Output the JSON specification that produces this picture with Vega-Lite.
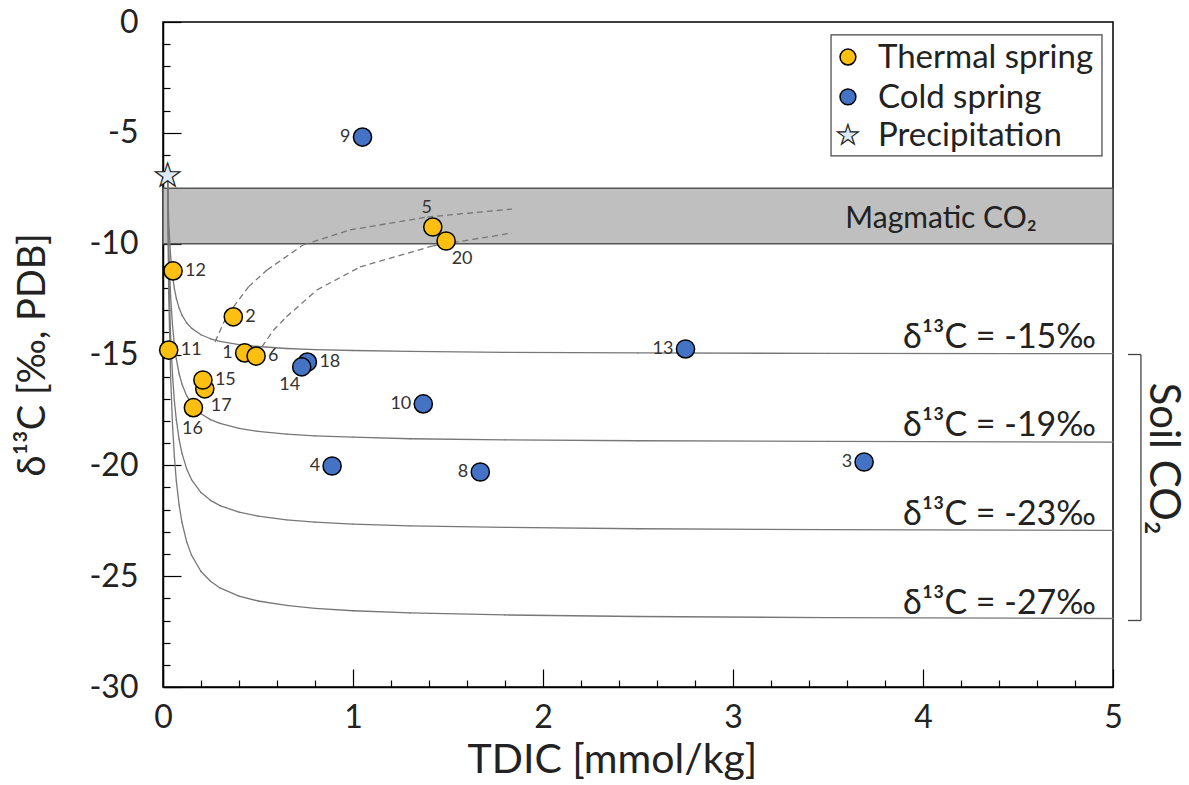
{
  "$schema": "https://vega.github.io/schema/vega-lite/v6.json",
  "width": 950,
  "height": 665,
  "autosize": "none",
  "padding": {"left": 163, "top": 22, "right": 76, "bottom": 98},
  "background": "white",
  "config": {
    "font": "Lato",
    "view": {"stroke": "black", "strokeWidth": 1.5},
    "axis": {"domainColor": "black", "domainWidth": 1.5, "tickColor": "black", "tickWidth": 1.2, "grid": false, "labelColor": "#222", "titleColor": "#222", "titleFontWeight": "normal", "labelFont": "Lato", "titleFont": "Lato", "labelFlush": false}
  },
  "resolve": {"axis": {"x": "independent", "y": "independent"}},
  "layer": [
    {
      "data": {"values": [{"name": "Magmatic CO₂", "x1": 0, "x2": 5, "top": -7.5, "bottom": -10}]},
      "mark": {"type": "rect", "fill": "#bfbfbf", "stroke": "#555", "strokeWidth": 1.5},
      "encoding": {
        "x": {"field": "x1", "type": "quantitative", "scale": {"domain": [0, 5], "nice": false, "zero": false},
          "axis": {"orient": "bottom", "values": [0, 1, 2, 3, 4, 5], "tickSize": -18, "labelFontSize": 32, "labelPadding": 33, "title": "TDIC [mmol/kg]", "titleFontSize": 41, "titlePadding": 7, "titleX": 449}},
        "x2": {"field": "x2"},
        "y": {"field": "top", "type": "quantitative", "scale": {"domain": [-30, 0], "nice": false, "zero": false},
          "axis": {"orient": "left", "values": [0, -5, -10, -15, -20, -25, -30], "tickSize": -18,
            "labelExpr": "datum.value == 0 ? '0' : '-' + abs(datum.value)",
            "labelFontSize": 32, "labelPadding": 43, "title": "δ¹³C [‰, PDB]", "titleFontSize": 38, "titlePadding": 36}},
        "y2": {"field": "bottom"}
      }
    },
    {
      "data": {"values": [{"name": "Magmatic CO₂", "cx": 4.095, "cy": -8.8}]},
      "mark": {"type": "text", "fontSize": 30, "align": "center", "baseline": "middle", "color": "#222", "dy": 2},
      "encoding": {
        "x": {"field": "cx", "type": "quantitative", "axis": null},
        "y": {"field": "cy", "type": "quantitative", "axis": null},
        "text": {"field": "name"}
      }
    },
    {
      "data": {"values": [
        {"curve": "-15", "tdic": 0.024, "d13c": -6.9},
        {"curve": "-15", "tdic": 0.03, "d13c": -9.07},
        {"curve": "-15", "tdic": 0.04, "d13c": -10.55},
        {"curve": "-15", "tdic": 0.05, "d13c": -11.44},
        {"curve": "-15", "tdic": 0.06, "d13c": -12.03},
        {"curve": "-15", "tdic": 0.07, "d13c": -12.46},
        {"curve": "-15", "tdic": 0.085, "d13c": -12.91},
        {"curve": "-15", "tdic": 0.1, "d13c": -13.22},
        {"curve": "-15", "tdic": 0.125, "d13c": -13.58},
        {"curve": "-15", "tdic": 0.15, "d13c": -13.81},
        {"curve": "-15", "tdic": 0.2, "d13c": -14.11},
        {"curve": "-15", "tdic": 0.25, "d13c": -14.29},
        {"curve": "-15", "tdic": 0.3, "d13c": -14.41},
        {"curve": "-15", "tdic": 0.4, "d13c": -14.55},
        {"curve": "-15", "tdic": 0.5, "d13c": -14.64},
        {"curve": "-15", "tdic": 0.65, "d13c": -14.73},
        {"curve": "-15", "tdic": 0.8, "d13c": -14.78},
        {"curve": "-15", "tdic": 1.0, "d13c": -14.82},
        {"curve": "-15", "tdic": 1.3, "d13c": -14.86},
        {"curve": "-15", "tdic": 1.8, "d13c": -14.9},
        {"curve": "-15", "tdic": 2.5, "d13c": -14.93},
        {"curve": "-15", "tdic": 3.5, "d13c": -14.95},
        {"curve": "-15", "tdic": 5, "d13c": -14.96},
        {"curve": "-19", "tdic": 0.024, "d13c": -6.9},
        {"curve": "-19", "tdic": 0.03, "d13c": -10.13},
        {"curve": "-19", "tdic": 0.04, "d13c": -12.35},
        {"curve": "-19", "tdic": 0.05, "d13c": -13.68},
        {"curve": "-19", "tdic": 0.06, "d13c": -14.57},
        {"curve": "-19", "tdic": 0.07, "d13c": -15.2},
        {"curve": "-19", "tdic": 0.085, "d13c": -15.87},
        {"curve": "-19", "tdic": 0.1, "d13c": -16.34},
        {"curve": "-19", "tdic": 0.125, "d13c": -16.87},
        {"curve": "-19", "tdic": 0.15, "d13c": -17.23},
        {"curve": "-19", "tdic": 0.2, "d13c": -17.67},
        {"curve": "-19", "tdic": 0.25, "d13c": -17.94},
        {"curve": "-19", "tdic": 0.3, "d13c": -18.11},
        {"curve": "-19", "tdic": 0.4, "d13c": -18.33},
        {"curve": "-19", "tdic": 0.5, "d13c": -18.47},
        {"curve": "-19", "tdic": 0.65, "d13c": -18.59},
        {"curve": "-19", "tdic": 0.8, "d13c": -18.67},
        {"curve": "-19", "tdic": 1.0, "d13c": -18.73},
        {"curve": "-19", "tdic": 1.3, "d13c": -18.8},
        {"curve": "-19", "tdic": 1.8, "d13c": -18.85},
        {"curve": "-19", "tdic": 2.5, "d13c": -18.89},
        {"curve": "-19", "tdic": 3.5, "d13c": -18.92},
        {"curve": "-19", "tdic": 5, "d13c": -18.95},
        {"curve": "-23", "tdic": 0.024, "d13c": -6.9},
        {"curve": "-23", "tdic": 0.03, "d13c": -11.2},
        {"curve": "-23", "tdic": 0.04, "d13c": -14.15},
        {"curve": "-23", "tdic": 0.05, "d13c": -15.92},
        {"curve": "-23", "tdic": 0.06, "d13c": -17.1},
        {"curve": "-23", "tdic": 0.07, "d13c": -17.94},
        {"curve": "-23", "tdic": 0.085, "d13c": -18.84},
        {"curve": "-23", "tdic": 0.1, "d13c": -19.46},
        {"curve": "-23", "tdic": 0.125, "d13c": -20.17},
        {"curve": "-23", "tdic": 0.15, "d13c": -20.64},
        {"curve": "-23", "tdic": 0.2, "d13c": -21.23},
        {"curve": "-23", "tdic": 0.25, "d13c": -21.58},
        {"curve": "-23", "tdic": 0.3, "d13c": -21.82},
        {"curve": "-23", "tdic": 0.4, "d13c": -22.11},
        {"curve": "-23", "tdic": 0.5, "d13c": -22.29},
        {"curve": "-23", "tdic": 0.65, "d13c": -22.46},
        {"curve": "-23", "tdic": 0.8, "d13c": -22.56},
        {"curve": "-23", "tdic": 1.0, "d13c": -22.65},
        {"curve": "-23", "tdic": 1.3, "d13c": -22.73},
        {"curve": "-23", "tdic": 1.8, "d13c": -22.8},
        {"curve": "-23", "tdic": 2.5, "d13c": -22.86},
        {"curve": "-23", "tdic": 3.5, "d13c": -22.9},
        {"curve": "-23", "tdic": 5, "d13c": -22.93},
        {"curve": "-27", "tdic": 0.024, "d13c": -6.9},
        {"curve": "-27", "tdic": 0.03, "d13c": -12.27},
        {"curve": "-27", "tdic": 0.04, "d13c": -15.95},
        {"curve": "-27", "tdic": 0.05, "d13c": -18.16},
        {"curve": "-27", "tdic": 0.06, "d13c": -19.63},
        {"curve": "-27", "tdic": 0.07, "d13c": -20.69},
        {"curve": "-27", "tdic": 0.085, "d13c": -21.8},
        {"curve": "-27", "tdic": 0.1, "d13c": -22.58},
        {"curve": "-27", "tdic": 0.125, "d13c": -23.46},
        {"curve": "-27", "tdic": 0.15, "d13c": -24.05},
        {"curve": "-27", "tdic": 0.2, "d13c": -24.79},
        {"curve": "-27", "tdic": 0.25, "d13c": -25.23},
        {"curve": "-27", "tdic": 0.3, "d13c": -25.53},
        {"curve": "-27", "tdic": 0.4, "d13c": -25.9},
        {"curve": "-27", "tdic": 0.5, "d13c": -26.12},
        {"curve": "-27", "tdic": 0.65, "d13c": -26.32},
        {"curve": "-27", "tdic": 0.8, "d13c": -26.45},
        {"curve": "-27", "tdic": 1.0, "d13c": -26.56},
        {"curve": "-27", "tdic": 1.3, "d13c": -26.66},
        {"curve": "-27", "tdic": 1.8, "d13c": -26.75},
        {"curve": "-27", "tdic": 2.5, "d13c": -26.82},
        {"curve": "-27", "tdic": 3.5, "d13c": -26.87},
        {"curve": "-27", "tdic": 5, "d13c": -26.91}
      ]},
      "transform": [
        {"window": [{"op": "lead", "field": "tdic", "as": "tdic2"}, {"op": "lead", "field": "d13c", "as": "d13c2"}], "groupby": ["curve"], "sort": [{"field": "tdic", "order": "ascending"}]},
        {"filter": "isValid(datum.tdic2)"}
      ],
      "mark": {"type": "rule", "color": "#777", "strokeWidth": 1.3, "strokeCap": "round"},
      "encoding": {
        "x": {"field": "tdic", "type": "quantitative",
          "axis": {"orient": "bottom", "values": [0.2, 0.4, 0.6, 0.8, 1.2, 1.4, 1.6, 1.8, 2.2, 2.4, 2.6, 2.8, 3.2, 3.4, 3.6, 3.8, 4.2, 4.4, 4.6, 4.8], "tickSize": -7, "labels": false, "domain": false, "title": null}},
        "y": {"field": "d13c", "type": "quantitative",
          "axis": {"orient": "left", "values": [-1, -2, -3, -4, -6, -7, -8, -9, -11, -12, -13, -14, -16, -17, -18, -19, -21, -22, -23, -24, -26, -27, -28, -29], "tickSize": -7, "labels": false, "domain": false, "title": null}},
        "x2": {"field": "tdic2"},
        "y2": {"field": "d13c2"}
      }
    },
    {
      "data": {"values": [
        {"curve": "up", "tdic": 0.274, "d13c": -14.43},
        {"curve": "up", "tdic": 0.32, "d13c": -13.55},
        {"curve": "up", "tdic": 0.37, "d13c": -12.86},
        {"curve": "up", "tdic": 0.45, "d13c": -11.95},
        {"curve": "up", "tdic": 0.547, "d13c": -11.19},
        {"curve": "up", "tdic": 0.737, "d13c": -10.06},
        {"curve": "up", "tdic": 0.984, "d13c": -9.38},
        {"curve": "up", "tdic": 1.39, "d13c": -8.8},
        {"curve": "up", "tdic": 1.837, "d13c": -8.44},
        {"curve": "lo", "tdic": 0.52, "d13c": -14.66},
        {"curve": "lo", "tdic": 0.58, "d13c": -13.92},
        {"curve": "lo", "tdic": 0.65, "d13c": -13.3},
        {"curve": "lo", "tdic": 0.81, "d13c": -12.09},
        {"curve": "lo", "tdic": 1.037, "d13c": -11.05},
        {"curve": "lo", "tdic": 1.42, "d13c": -10.1},
        {"curve": "lo", "tdic": 1.837, "d13c": -9.52}
      ]},
      "transform": [
        {"window": [{"op": "lead", "field": "tdic", "as": "tdic2"}, {"op": "lead", "field": "d13c", "as": "d13c2"}], "groupby": ["curve"], "sort": [{"field": "tdic", "order": "ascending"}]},
        {"filter": "isValid(datum.tdic2)"}
      ],
      "mark": {"type": "rule", "color": "#777", "strokeWidth": 1.3, "strokeDash": [6, 4]},
      "encoding": {
        "x": {"field": "tdic", "type": "quantitative", "axis": null},
        "y": {"field": "d13c", "type": "quantitative", "axis": null},
        "x2": {"field": "tdic2"},
        "y2": {"field": "d13c2"}
      }
    },
    {
      "data": {"values": [
        {"label": "δ¹³C = -15‰", "lx": 4.91, "delta": -15},
        {"label": "δ¹³C = -19‰", "lx": 4.91, "delta": -19},
        {"label": "δ¹³C = -23‰", "lx": 4.91, "delta": -23},
        {"label": "δ¹³C = -27‰", "lx": 4.91, "delta": -27}
      ]},
      "mark": {"type": "text", "fontSize": 34, "align": "right", "baseline": "alphabetic", "dy": -7, "color": "#222"},
      "encoding": {
        "x": {"field": "lx", "type": "quantitative", "axis": null},
        "y": {"field": "delta", "type": "quantitative", "axis": null},
        "text": {"field": "label"}
      }
    },
    {
      "data": {"values": [
        {"id": "12", "type": "Thermal spring", "tdic": 0.053, "d13c": -11.23},
        {"id": "11", "type": "Thermal spring", "tdic": 0.03, "d13c": -14.8},
        {"id": "2", "type": "Thermal spring", "tdic": 0.37, "d13c": -13.3},
        {"id": "1", "type": "Thermal spring", "tdic": 0.43, "d13c": -14.93},
        {"id": "6", "type": "Thermal spring", "tdic": 0.49, "d13c": -15.07},
        {"id": "17", "type": "Thermal spring", "tdic": 0.22, "d13c": -16.55},
        {"id": "15", "type": "Thermal spring", "tdic": 0.21, "d13c": -16.15},
        {"id": "16", "type": "Thermal spring", "tdic": 0.16, "d13c": -17.4},
        {"id": "5", "type": "Thermal spring", "tdic": 1.42, "d13c": -9.25},
        {"id": "20", "type": "Thermal spring", "tdic": 1.49, "d13c": -9.88},
        {"id": "9", "type": "Cold spring", "tdic": 1.05, "d13c": -5.19},
        {"id": "13", "type": "Cold spring", "tdic": 2.75, "d13c": -14.75},
        {"id": "18", "type": "Cold spring", "tdic": 0.76, "d13c": -15.34},
        {"id": "14", "type": "Cold spring", "tdic": 0.73, "d13c": -15.56},
        {"id": "10", "type": "Cold spring", "tdic": 1.37, "d13c": -17.23},
        {"id": "4", "type": "Cold spring", "tdic": 0.89, "d13c": -20.03},
        {"id": "8", "type": "Cold spring", "tdic": 1.67, "d13c": -20.3},
        {"id": "3", "type": "Cold spring", "tdic": 3.69, "d13c": -19.85}
      ]},
      "layer": [
        {
          "mark": {"type": "circle", "opacity": 1, "size": 330, "stroke": "black", "strokeWidth": 1.5},
          "encoding": {
            "x": {"field": "tdic", "type": "quantitative", "axis": null},
            "y": {"field": "d13c", "type": "quantitative", "axis": null},
            "color": {"field": "type", "type": "nominal", "legend": null,
              "scale": {"domain": ["Thermal spring", "Cold spring"], "range": ["#FDC010", "#4472C4"]}}
          }
        },
        {
          "transform": [{"filter": "indexof(['12','11','2','6','15','18'], datum.id) >= 0"}],
          "mark": {"type": "text", "fontSize": 18, "align": "left", "baseline": "middle", "dx": 12, "color": "#333"},
          "encoding": {
            "x": {"field": "tdic", "type": "quantitative", "axis": null},
            "y": {"field": "d13c", "type": "quantitative", "axis": null},
            "text": {"field": "id"}
          }
        },
        {
          "transform": [{"filter": "indexof(['1','9','13','10','4','8','3'], datum.id) >= 0"}],
          "mark": {"type": "text", "fontSize": 18, "align": "right", "baseline": "middle", "dx": -12, "color": "#333"},
          "encoding": {
            "x": {"field": "tdic", "type": "quantitative", "axis": null},
            "y": {"field": "d13c", "type": "quantitative", "axis": null},
            "text": {"field": "id"}
          }
        },
        {
          "transform": [{"filter": "datum.id == '17'"}],
          "mark": {"type": "text", "fontSize": 18, "align": "left", "baseline": "middle", "dx": 6, "dy": 17, "color": "#333"},
          "encoding": {
            "x": {"field": "tdic", "type": "quantitative", "axis": null},
            "y": {"field": "d13c", "type": "quantitative", "axis": null},
            "text": {"field": "id"}
          }
        },
        {
          "transform": [{"filter": "datum.id == '16'"}],
          "mark": {"type": "text", "fontSize": 18, "align": "center", "baseline": "middle", "dx": -1, "dy": 21, "color": "#333"},
          "encoding": {
            "x": {"field": "tdic", "type": "quantitative", "axis": null},
            "y": {"field": "d13c", "type": "quantitative", "axis": null},
            "text": {"field": "id"}
          }
        },
        {
          "transform": [{"filter": "datum.id == '14'"}],
          "mark": {"type": "text", "fontSize": 18, "align": "center", "baseline": "middle", "dx": -12, "dy": 18, "color": "#333"},
          "encoding": {
            "x": {"field": "tdic", "type": "quantitative", "axis": null},
            "y": {"field": "d13c", "type": "quantitative", "axis": null},
            "text": {"field": "id"}
          }
        },
        {
          "transform": [{"filter": "datum.id == '5'"}],
          "mark": {"type": "text", "fontSize": 18, "align": "center", "baseline": "middle", "dx": -6, "dy": -19, "color": "#333"},
          "encoding": {
            "x": {"field": "tdic", "type": "quantitative", "axis": null},
            "y": {"field": "d13c", "type": "quantitative", "axis": null},
            "text": {"field": "id"}
          }
        },
        {
          "transform": [{"filter": "datum.id == '20'"}],
          "mark": {"type": "text", "fontSize": 18, "align": "center", "baseline": "middle", "dx": 16, "dy": 18, "color": "#333"},
          "encoding": {
            "x": {"field": "tdic", "type": "quantitative", "axis": null},
            "y": {"field": "d13c", "type": "quantitative", "axis": null},
            "text": {"field": "id"}
          }
        }
      ]
    },
    {
      "data": {"values": [{"type": "Precipitation", "glyph": "★", "tdic": 0.024, "d13c": -6.9}]},
      "mark": {"type": "text", "font": "DejaVu Sans", "fontSize": 32, "align": "center", "baseline": "middle", "fill": "#DDEBF7", "stroke": "#222", "strokeWidth": 1.2, "dy": 1},
      "encoding": {
        "x": {"field": "tdic", "type": "quantitative", "axis": null},
        "y": {"field": "d13c", "type": "quantitative", "axis": null},
        "text": {"field": "glyph"}
      }
    },
    {
      "data": {"values": [{"x1": 3.516, "x2": 4.942, "y1": -0.585, "y2": -6.04}]},
      "mark": {"type": "rect", "fill": "white", "stroke": "#444", "strokeWidth": 1.2},
      "encoding": {
        "x": {"field": "x1", "type": "quantitative", "axis": null},
        "x2": {"field": "x2"},
        "y": {"field": "y1", "type": "quantitative", "axis": null},
        "y2": {"field": "y2"}
      }
    },
    {
      "data": {"values": [
        {"type": "Thermal spring", "sx": 3.605, "sy": -1.58},
        {"type": "Cold spring", "sx": 3.605, "sy": -3.38}
      ]},
      "mark": {"type": "circle", "opacity": 1, "size": 250, "stroke": "black", "strokeWidth": 1.5},
      "encoding": {
        "x": {"field": "sx", "type": "quantitative", "axis": null},
        "y": {"field": "sy", "type": "quantitative", "axis": null},
        "color": {"field": "type", "type": "nominal", "legend": null}
      }
    },
    {
      "data": {"values": [{"glyph": "★", "sx": 3.605, "sy": -5.1}]},
      "mark": {"type": "text", "font": "DejaVu Sans", "fontSize": 27, "align": "center", "baseline": "middle", "fill": "#DDEBF7", "stroke": "#222", "strokeWidth": 1.2, "dy": 1},
      "encoding": {
        "x": {"field": "sx", "type": "quantitative", "axis": null},
        "y": {"field": "sy", "type": "quantitative", "axis": null},
        "text": {"field": "glyph"}
      }
    },
    {
      "data": {"values": [
        {"label": "Thermal spring", "lx": 3.763, "ly": -1.58},
        {"label": "Cold spring", "lx": 3.763, "ly": -3.38},
        {"label": "Precipitation", "lx": 3.763, "ly": -5.1}
      ]},
      "mark": {"type": "text", "fontSize": 33, "align": "left", "baseline": "middle", "color": "#222", "dy": 1},
      "encoding": {
        "x": {"field": "lx", "type": "quantitative", "axis": null},
        "y": {"field": "ly", "type": "quantitative", "axis": null},
        "text": {"field": "label"}
      }
    },
    {
      "data": {"values": [{"bx1": 5.079, "bx2": 5.147, "end": -15}, {"bx1": 5.079, "bx2": 5.147, "end": -27}]},
      "mark": {"type": "rule", "color": "#444", "strokeWidth": 1.3},
      "encoding": {
        "x": {"field": "bx1", "type": "quantitative", "axis": null},
        "x2": {"field": "bx2"},
        "y": {"field": "end", "type": "quantitative", "axis": null}
      }
    },
    {
      "data": {"values": [{"bx": 5.147, "from": -15, "to": -27}]},
      "mark": {"type": "rule", "color": "#444", "strokeWidth": 1.3},
      "encoding": {
        "x": {"field": "bx", "type": "quantitative", "axis": null},
        "y": {"field": "from", "type": "quantitative", "axis": null},
        "y2": {"field": "to"}
      }
    },
    {
      "data": {"values": [{"label": "Soil CO₂", "tx": 5.262, "mid": -19.7}]},
      "mark": {"type": "text", "fontSize": 42, "angle": 90, "align": "center", "baseline": "middle", "color": "#222"},
      "encoding": {
        "x": {"field": "tx", "type": "quantitative", "axis": null},
        "y": {"field": "mid", "type": "quantitative", "axis": null},
        "text": {"field": "label"}
      }
    }
  ]
}
